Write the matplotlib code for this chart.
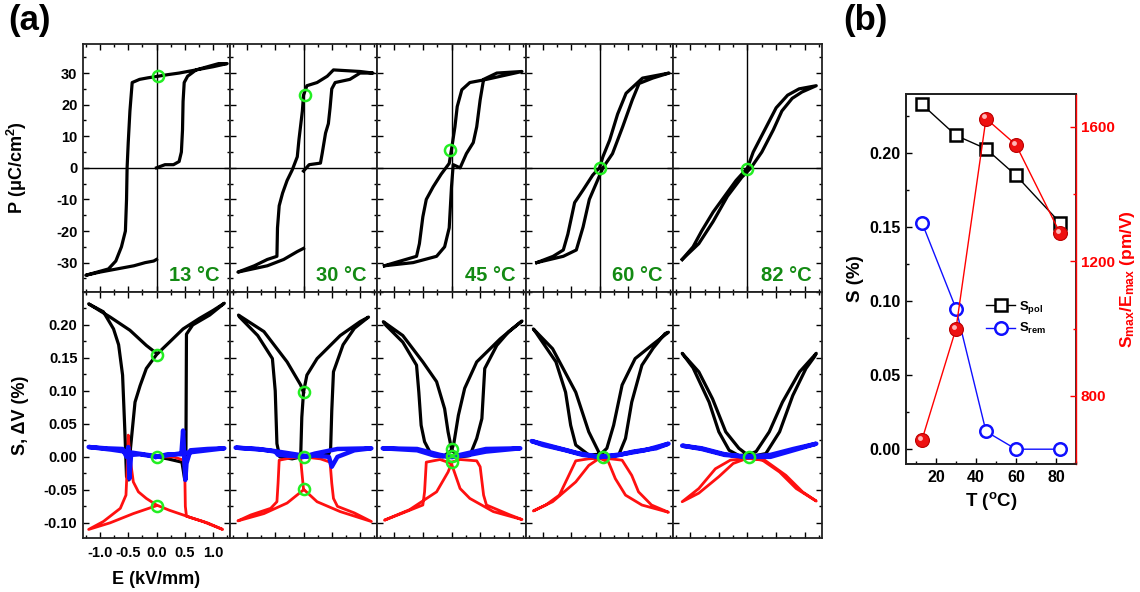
import numpy as np
import matplotlib
matplotlib.use('Agg')
import matplotlib.pyplot as plt
import matplotlib.transforms as mtransforms
from matplotlib.ticker import MultipleLocator, FormatStrFormatter

plt.rcParams['font.family'] = ['Liberation Sans', 'DejaVu Sans']
plt.rcParams['font.weight'] = 'bold'
plt.rcParams['axes.labelweight'] = 'bold'
plt.rcParams['axes.unicode_minus'] = False
plt.rcParams['mathtext.fontset'] = 'custom'
plt.rcParams['mathtext.rm'] = 'Liberation Sans:bold'
plt.rcParams['mathtext.it'] = 'Liberation Sans:bold'
plt.rcParams['mathtext.bf'] = 'Liberation Sans:bold'

# ---- (a) P-E loops, (E kV/mm, P uC/cm2) ----
p13 = [(0, 0), (0.15, 1), (0.3, 1), (0.4, 2), (0.44, 5), (0.46, 12), (0.47, 21), (0.49, 27), (0.55, 29),
       (0.7, 31), (0.9, 32), (1.1, 33), (1.25, 33),
       (1.0, 32), (0.7, 31), (0.4, 30), (0.2, 29.5), (0.03, 29), (-0.15, 28.5), (-0.3, 28), (-0.43, 27),
       (-0.47, 18), (-0.5, 8), (-0.52, 0), (-0.53, -10), (-0.55, -20), (-0.62, -25), (-0.72, -29.5),
       (-0.85, -32), (-1.05, -33), (-1.25, -34),
       (-1.0, -33), (-0.7, -32), (-0.4, -31), (-0.2, -30), (-0.05, -29.5), (0, -29)]
p30 = [(0, -1), (0.1, 1), (0.3, 1.5), (0.33, 4.5), (0.39, 11), (0.44, 14), (0.47, 19), (0.5, 25), (0.56, 27),
       (0.82, 28), (1.0, 30), (1.23, 30),
       (1.0, 30.5), (0.53, 31), (0.42, 29), (0.24, 27), (0.06, 26), (0, 23), (-0.02, 18), (-0.08, 9),
       (-0.11, 3.5), (-0.2, -0.7), (-0.29, -4), (-0.37, -8), (-0.43, -12), (-0.46, -19), (-0.47, -28),
       (-0.64, -29), (-0.87, -31), (-1.16, -33),
       (-0.9, -32), (-0.64, -31), (-0.35, -29), (-0.11, -26.5), (0, -25.5)]
p45 = [(-1.17, -31), (-0.67, -30), (-0.26, -28), (-0.12, -25), (-0.04, -19), (0, -6), (0.03, 1), (0.15, 0),
       (0.26, 4.5), (0.38, 8), (0.44, 13), (0.5, 21.5), (0.56, 28), (0.79, 30), (1.23, 30.5),
       (0.61, 28), (0.32, 27), (0.18, 24.7), (0.1, 19.4), (0.06, 13), (0, 5.8), (-0.04, 1.4), (-0.18, -2),
       (-0.32, -6), (-0.44, -10), (-0.5, -15.5), (-0.56, -24), (-0.61, -28), (-1.08, -30.5), (-1.17, -31)]
p60 = [(-1.11, -30), (-0.64, -28), (-0.41, -26), (-0.29, -18.7), (-0.18, -10), (-0.06, -5), (0.06, 0),
       (0.23, 4.5), (0.41, 13), (0.58, 21.5), (0.7, 26.7), (0.94, 28.4), (1.23, 30),
       (0.76, 28.4), (0.47, 23.6), (0.32, 17), (0.18, 8.8), (0.06, 3.5), (0, 0), (-0.12, -2.3), (-0.29, -7),
       (-0.44, -11), (-0.56, -21), (-0.64, -26), (-0.82, -28), (-1.11, -30)]
p82 = [(-1.14, -29), (-0.85, -24), (-0.6, -17), (-0.35, -9), (-0.1, -3), (0.06, 0), (0.25, 5), (0.45, 12),
       (0.6, 18), (0.78, 22), (0.95, 24), (1.2, 26),
       (0.9, 25), (0.7, 23), (0.5, 19), (0.3, 12), (0.1, 5), (0, 0), (-0.2, -4), (-0.4, -9), (-0.6, -14),
       (-0.8, -20), (-0.95, -25), (-1.14, -29)]

# ---- (a) strain loops, black S (%) ----
s13 = [(0, 0.0), (0.2, -0.003), (0.45, -0.008), (0.5, -0.035), (0.52, 0.0), (0.53, 0.186), (0.64, 0.2),
       (0.94, 0.215), (1.2, 0.233),
       (1.0, 0.222), (0.76, 0.21), (0.47, 0.194), (0.23, 0.174), (0, 0.155), (-0.18, 0.134), (-0.29, 0.108),
       (-0.38, 0.083), (-0.42, 0.048), (-0.46, 0.013), (-0.49, -0.035), (-0.53, -0.03), (-0.56, 0.04),
       (-0.6, 0.124), (-0.67, 0.17), (-0.76, 0.194), (-0.94, 0.22), (-1.2, 0.232),
       (-0.82, 0.212), (-0.47, 0.192), (-0.18, 0.169), (0, 0.157)]
s30 = [(0, 0.0), (0.25, 0.0), (0.45, 0.005), (0.48, 0.013), (0.5, 0.07), (0.53, 0.129), (0.7, 0.17),
       (0.9, 0.195), (1.15, 0.212),
       (1.0, 0.205), (0.65, 0.184), (0.24, 0.149), (0.06, 0.124), (0, 0.098), (-0.03, 0.06), (-0.05, 0.0),
       (-0.2, -0.003), (-0.42, 0.0), (-0.47, 0.02), (-0.5, 0.1), (-0.55, 0.149), (-0.81, 0.184), (-1.13, 0.212),
       (-1.15, 0.215), (-0.7, 0.19), (-0.29, 0.144), (-0.05, 0.109), (0, 0.098)]
s45 = [(0, 0.01), (0.15, 0.0), (0.32, 0.002), (0.44, 0.028), (0.53, 0.058), (0.58, 0.134), (0.79, 0.169),
       (1.0, 0.19), (1.2, 0.204),
       (1.23, 0.206), (0.85, 0.179), (0.44, 0.144), (0.23, 0.104), (0.12, 0.063), (0.04, 0.02), (0, 0.01),
       (-0.15, 0.0), (-0.35, 0.003), (-0.47, 0.023), (-0.53, 0.048), (-0.57, 0.098), (-0.61, 0.139),
       (-0.85, 0.174), (-1.15, 0.2),
       (-1.19, 0.205), (-0.85, 0.184), (-0.5, 0.144), (-0.26, 0.114), (-0.12, 0.073), (-0.06, 0.038), (0, 0.012)]
s60 = [(0, 0.005), (0.19, 0.0), (0.34, 0.003), (0.46, 0.028), (0.57, 0.083), (0.75, 0.139), (0.95, 0.165),
       (1.16, 0.187),
       (1.22, 0.189), (0.92, 0.169), (0.63, 0.149), (0.4, 0.109), (0.25, 0.048), (0.13, 0.013), (0.02, 0.004),
       (-0.19, 0.003), (-0.42, 0.018), (-0.51, 0.048), (-0.6, 0.098), (-0.77, 0.144), (-1.12, 0.188),
       (-1.17, 0.194), (-0.83, 0.164), (-0.42, 0.098), (-0.19, 0.038), (0, 0.005)]
s82 = [(0, 0.003), (0.15, 0.002), (0.32, 0.005), (0.56, 0.038), (0.79, 0.093), (1.02, 0.134), (1.17, 0.152),
       (1.2, 0.157), (0.91, 0.129), (0.61, 0.083), (0.38, 0.038), (0.15, 0.008), (0, 0.003),
       (-0.15, 0.002), (-0.32, 0.01), (-0.5, 0.038), (-0.67, 0.083), (-0.95, 0.135), (-1.14, 0.157),
       (-0.85, 0.129), (-0.61, 0.088), (-0.38, 0.038), (-0.15, 0.013), (0, 0.003)]

# ---- red curves (%) ----
r13 = [(0, 0.0), (0.3, 0.0), (0.48, -0.005), (0.5, -0.02), (0.51, -0.075), (0.53, -0.09), (0.82, -0.098),
       (1.17, -0.11),
       (0.9, -0.1), (0.64, -0.093), (0.23, -0.081), (0, -0.073), (-0.18, -0.063), (-0.32, -0.053),
       (-0.41, -0.038), (-0.47, 0.0), (-0.5, 0.033), (-0.51, 0.0), (-0.54, -0.058), (-0.64, -0.078),
       (-0.94, -0.098), (-1.2, -0.11),
       (-0.82, -0.1), (-0.41, -0.086), (0, -0.074)]
r30 = [(0, 0.0), (0.3, -0.003), (0.47, -0.008), (0.5, -0.04), (0.53, -0.063), (0.6, -0.075), (0.9, -0.085),
       (1.2, -0.098),
       (0.65, -0.083), (0.24, -0.068), (0, -0.049), (-0.04, -0.013), (-0.05, 0.0), (-0.25, -0.002),
       (-0.43, -0.005), (-0.45, -0.04), (-0.47, -0.068), (-0.58, -0.078), (-0.93, -0.088), (-1.16, -0.097),
       (-0.7, -0.086), (-0.29, -0.07), (0, -0.05)]
r45 = [(0, -0.008), (0.15, -0.004), (0.44, -0.006), (0.5, -0.015), (0.56, -0.058), (0.61, -0.073),
       (1.02, -0.088), (1.2, -0.094),
       (1.23, -0.095), (0.73, -0.083), (0.32, -0.063), (0.15, -0.048), (0.03, -0.018), (0, -0.01),
       (-0.2, -0.004), (-0.44, -0.008), (-0.47, -0.053), (-0.5, -0.073), (-0.79, -0.083), (-1.17, -0.096),
       (-0.73, -0.08), (-0.26, -0.053), (-0.06, -0.023), (0, -0.01)]
r60 = [(0, -0.002), (0.2, -0.003), (0.4, -0.005), (0.57, -0.028), (0.69, -0.053), (0.92, -0.073),
       (1.22, -0.084), (0.75, -0.073), (0.46, -0.058), (0.28, -0.033), (0.16, -0.008), (0, -0.002),
       (-0.2, -0.003), (-0.42, -0.006), (-0.57, -0.033), (-0.71, -0.058), (-0.95, -0.073), (-1.17, -0.082),
       (-0.83, -0.068), (-0.42, -0.038), (-0.19, -0.013), (0, -0.002)]
r82 = [(0, -0.002), (0.3, -0.005), (0.67, -0.028), (0.96, -0.053), (1.2, -0.067), (0.85, -0.048),
       (0.56, -0.023), (0.26, -0.005), (0, -0.002), (-0.3, -0.005), (-0.56, -0.018), (-0.85, -0.048),
       (-1.14, -0.068), (-0.85, -0.055), (-0.5, -0.03), (-0.25, -0.01), (0, -0.002)]

# ---- blue dV curves (%) ----
b13 = [(0, 0.0), (0.2, 0.004), (0.44, 0.004), (0.47, 0.04), (0.49, 0.0), (0.51, -0.035), (0.53, -0.01),
       (0.6, 0.01), (0.9, 0.012), (1.2, 0.013),
       (0.8, 0.009), (0.4, 0.005), (0, 0.0), (-0.3, 0.004), (-0.45, 0.003), (-0.48, -0.033), (-0.5, 0.015),
       (-0.53, 0.0), (-0.6, 0.012), (-0.9, 0.013), (-1.2, 0.015),
       (-0.8, 0.011), (-0.4, 0.006), (0, 0.001)]
b30 = [(0, 0.0), (0.2, 0.002), (0.45, 0.0), (0.5, -0.015), (0.6, 0.0), (0.9, 0.01), (1.2, 0.013),
       (0.6, 0.012), (0.2, 0.005), (0, 0.0), (-0.45, 0.003), (-0.5, 0.008), (-0.8, 0.012), (-1.2, 0.014),
       (-0.6, 0.01), (0, 0.002)]
b45 = [(0, 0.0), (0.3, 0.003), (0.6, 0.008), (1.2, 0.013), (0.6, 0.012), (0.2, 0.004), (0, 0.0),
       (-0.3, 0.002), (-0.6, 0.01), (-1.2, 0.013), (-0.6, 0.012), (-0.2, 0.003), (0, 0.0)]
b60 = [(0, 0.0), (0.3, 0.002), (0.6, 0.008), (1.0, 0.013), (1.22, 0.02), (0.8, 0.01), (0.4, 0.004), (0, 0.0),
       (-0.3, 0.003), (-0.6, 0.01), (-1.0, 0.018), (-1.2, 0.024), (-0.8, 0.015), (-0.4, 0.006), (0, 0.0)]
b82 = [(0, 0.0), (0.4, 0.0), (0.8, 0.01), (1.2, 0.02), (0.8, 0.012), (0.4, 0.003), (0, 0.0),
       (-0.4, 0.003), (-0.8, 0.012), (-1.14, 0.017), (-0.8, 0.013), (-0.4, 0.004), (0, 0.0)]

# green marks
mark_p = [(0.03, 29), (0.02, 23), (-0.02, 5.8), (0, 0), (0, -0.5)]
mark_s = [[(0, 0.155), (0, 0.0), (0, -0.074)],
          [(0, 0.098), (0, 0.0), (0, -0.049)],
          [(0, 0.012), (0, 0.002), (0, -0.008)],
          [(0.06, 0.0)],
          [(0.03, 0.0)]]

temps = ['13', '30', '45', '60', '82']
p_loops = [p13, p30, p45, p60, p82]
s_loops = [s13, s30, s45, s60, s82]
r_loops = [r13, r30, r45, r60, r82]
b_loops = [b13, b30, b45, b60, b82]

# ---- (b) ----
T = [13, 30, 45, 60, 82]
s_pol = [0.233, 0.212, 0.203, 0.185, 0.153]
s_rem = [0.153, 0.095, 0.012, 0.0, 0.0]
s_over_e = [670, 1000, 1624, 1546, 1284]

W, H = 1140, 592
fig = plt.figure(figsize=(W / 100, H / 100), dpi=100)


def box(x0, y0, x1, y1):
    return [x0 / W, 1 - y1 / H, (x1 - x0) / W, (y1 - y0) / H]


def style(ax, right=True, top=True):
    ax.tick_params(which='both', direction='in', top=top, right=right, labelsize=10.5, width=1, pad=4)
    ax.tick_params(which='major', length=4.5)
    ax.tick_params(which='minor', length=2.5)
    for s in ax.spines.values():
        s.set_linewidth(1.3)
        s.set_color('#222222')


green = '#22ee22'
lefts = [83, 230, 377, 526, 673]
for i in range(5):
    x0 = lefts[i]
    x1 = lefts[i + 1] if i < 4 else 822
    axp = fig.add_axes(box(x0, 44, x1, 292))
    axs = fig.add_axes(box(x0, 292, x1, 538))

    d = np.array(p_loops[i])
    axp.axhline(0, color='black', lw=1)
    axp.axvline(0, color='black', lw=1)
    axp.plot(d[:, 0], d[:, 1], color='black', lw=2.3)
    m = np.array(mark_p[i])
    axp.plot(m[0], m[1], 'o', ms=8, mfc='none', mec=green, mew=1.8, zorder=6)
    axp.text(0.93, 0.045, temps[i] + ' °C', transform=axp.transAxes, ha='right', va='baseline',
             color='#138a13', fontsize=14.5)
    axp.set_xlim(-1.3, 1.3)
    axp.set_ylim(-39.3, 39.2)
    axp.xaxis.set_major_locator(MultipleLocator(0.5))
    axp.xaxis.set_minor_locator(MultipleLocator(0.25))
    axp.yaxis.set_major_locator(MultipleLocator(10))
    axp.yaxis.set_minor_locator(MultipleLocator(5))
    style(axp)
    axp.set_xticklabels([])

    s = np.array(s_loops[i])
    r = np.array(r_loops[i])
    b = np.array(b_loops[i])
    axs.plot(s[:, 0], s[:, 1], color='black', lw=2.3, zorder=2)
    axs.plot(r[:, 0], r[:, 1], color='#ff1010', lw=2, zorder=3)
    axs.plot(b[:, 0], b[:, 1], color='#1010ff', lw=3.2, zorder=4)
    for pt in mark_s[i]:
        axs.plot(pt[0], pt[1], 'o', ms=8, mfc='none', mec=green, mew=1.8, zorder=6)
    axs.set_xlim(-1.3, 1.3)
    axs.set_ylim(-0.123, 0.25)
    axs.xaxis.set_major_locator(MultipleLocator(0.5))
    axs.xaxis.set_minor_locator(MultipleLocator(0.25))
    axs.yaxis.set_major_locator(MultipleLocator(0.05))
    axs.yaxis.set_minor_locator(MultipleLocator(0.025))
    style(axs)

    if i == 0:
        axp.set_yticks([-30, -20, -10, 0, 10, 20, 30])
        axp.set_ylabel('P (μC/cm$^2$)', fontsize=13)
        axp.yaxis.set_label_coords(-0.37, 0.5)
        axs.set_yticks([-0.10, -0.05, 0.0, 0.05, 0.10, 0.15, 0.20])
        axs.yaxis.set_major_formatter(FormatStrFormatter('%.2f'))
        axs.set_ylabel('S, ΔV (%)', fontsize=13)
        axs.yaxis.set_label_coords(-0.37, 0.5)
        axs.set_xticks([-1.0, -0.5, 0.0, 0.5, 1.0])
        axs.xaxis.set_major_formatter(FormatStrFormatter('%.1f'))
        axs.tick_params(axis='x', pad=6)
        axs.set_xlabel('E (kV/mm)', fontsize=13)
        axs.xaxis.set_label_coords(0.5, -0.135)
    else:
        axp.set_yticklabels([])
        axs.set_yticklabels([])
        axs.set_xticklabels([])

# ---- panel (b) ----
axb = fig.add_axes(box(906, 94, 1076, 464))
axb.plot(T, s_pol, color='black', lw=1, marker='s', ms=8, mfc='white', mec='black', mew=1.8,
         label='S$_{pol}$')
axb.plot(T, s_rem, color='#1010ff', lw=1, marker='o', ms=9, mfc='white', mec='#1010ff', mew=1.8,
         label='S$_{rem}$')
axb.set_xlim(5, 90)
axb.set_ylim(-0.01, 0.24)
axb.xaxis.set_major_locator(MultipleLocator(20))
axb.xaxis.set_minor_locator(MultipleLocator(10))
axb.yaxis.set_major_locator(MultipleLocator(0.05))
axb.yaxis.set_minor_locator(MultipleLocator(0.025))
axb.yaxis.set_major_formatter(FormatStrFormatter('%.2f'))
style(axb, right=False, top=False)
axb.tick_params(labelsize=11.5)
axb.set_xlabel('T ($^{o}$C)', fontsize=13.5)
axb.set_ylabel('S (%)', fontsize=13.5)

ax2 = axb.twinx()
ax2.plot(T, s_over_e, color='red', lw=1, marker='o', ms=10, mfc='#ee1111', mec='#bb0000', mew=0.8)
hl = mtransforms.offset_copy(ax2.transData, fig=fig, x=-1.5, y=1.5, units='points')
ax2.plot(T, s_over_e, ls='none', marker='o', ms=3.5, mfc='#ffb8b8', mec='none', transform=hl)
ax2.set_ylim(598, 1697)
ax2.yaxis.set_major_locator(MultipleLocator(400))
ax2.yaxis.set_minor_locator(MultipleLocator(200))
ax2.tick_params(which='both', direction='in', colors='red', labelsize=11, width=1)
ax2.tick_params(which='major', length=4.5)
ax2.tick_params(which='minor', length=2.5)
ax2.spines['right'].set_color('red')
ax2.spines['right'].set_linewidth(1)
for k in ['left', 'top', 'bottom']:
    ax2.spines[k].set_linewidth(1.3)
    ax2.spines[k].set_color('#222222')
ax2.set_ylabel('S$_{max}$/E$_{max}$ (pm/V)', color='red', fontsize=12.5)
ax2.yaxis.set_label_coords(1.245, 0.5)
h, l = axb.get_legend_handles_labels()
ax2.legend(h, l, loc='upper left', bbox_to_anchor=(0.44, 0.46), frameon=False, fontsize=9.5,
           handlelength=2.2, handletextpad=0.3, labelspacing=0.4, borderaxespad=0)

fig.text(8 / W, 1 - 4 / H, '(a)', fontsize=25, va='top', ha='left')
fig.text(843 / W, 1 - 4 / H, '(b)', fontsize=25, va='top', ha='left')

fig.savefig('out.png', dpi=100)
